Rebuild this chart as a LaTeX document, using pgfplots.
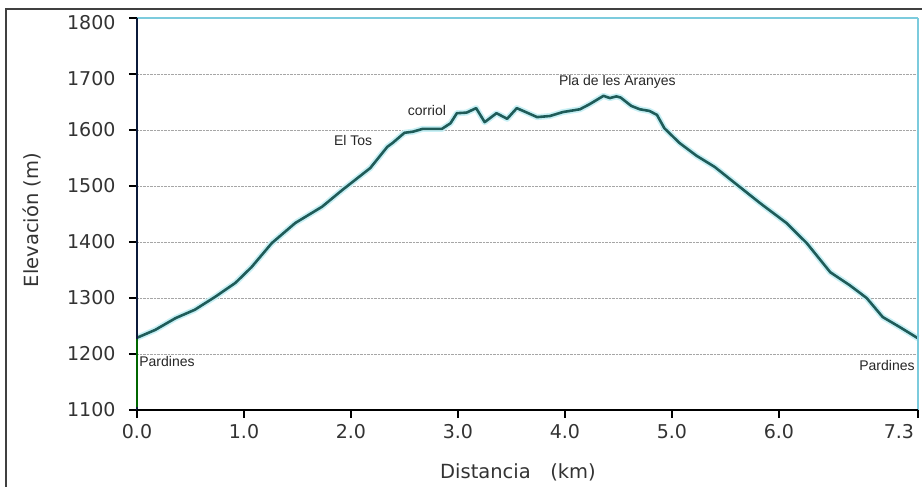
\documentclass[border=0pt]{standalone}
\usepackage{fontspec}
\setmainfont{DejaVu Sans}
\newfontfamily\arialf{Liberation Sans}
\usepackage{pgfplots}
\pgfplotsset{compat=1.18}
\definecolor{tealline}{HTML}{1F5C59}
\definecolor{halo}{HTML}{C8F0F5}
\definecolor{cyanax}{HTML}{7CCBDD}
\definecolor{navyax}{HTML}{0B1A3A}
\definecolor{ticktext}{HTML}{333333}
\definecolor{framec}{HTML}{404040}
\begin{document}
\begin{tikzpicture}
\useasboundingbox (0pt,0pt) rectangle (922pt,487pt);
\fill[white] (0pt,0pt) rectangle (922pt,487pt);
\draw[line width=1.6pt, framec] (6pt,0pt) -- (6pt,478pt);
\fill[framec] (5.2pt,477.3pt) rectangle (922pt,479.3pt);
\begin{axis}[
  at={(137pt,77pt)}, anchor=south west,
  scale only axis, width=781pt, height=392pt,
  xmin=0, xmax=7.3, ymin=1100, ymax=1800,
  clip=false,
  axis line style={draw=none},
  xtick={0,1,2,3,4,5,6,7.3},
  xticklabels={0.0,1.0,2.0,3.0,4.0,5.0,6.0,\hbox to 0pt{\hss 7.3\hskip4pt}},
  ytick={1100,1200,1300,1400,1500,1600},
  yticklabels={1100,1200,1300,1400,1500,1600},
  extra y ticks={1700,1800},
  extra y tick labels={1700,1800},
  extra y tick style={yticklabel style={yshift=-5pt}},
  xtick pos=lower, ytick pos=left,
  tick align=outside,
  major tick length=8pt,
  tick style={black, line width=1.8pt},
  ymajorgrids,
  grid style={densely dotted, gray!70, line width=0.8pt},
  xticklabel style={font=\fontsize{19}{21}\selectfont, text=ticktext, yshift=-3pt},
  yticklabel style={font=\fontsize{19}{21}\selectfont, text=ticktext, xshift=-10pt},
]
\addplot[halo, line width=6pt, line join=round] coordinates {
(0.00,1229)(0.17,1243)(0.36,1264)(0.54,1279)(0.73,1302)(0.92,1327)(1.07,1355)
(1.26,1398)(1.48,1434)(1.73,1463)(1.92,1493)(2.04,1511)(2.18,1532)(2.34,1570)
(2.39,1577)(2.50,1595)(2.58,1597)(2.67,1602)(2.85,1602)(2.93,1612)(2.99,1630)
(3.08,1631)(3.17,1639)(3.25,1614)(3.36,1630)(3.46,1620)(3.55,1639)(3.61,1634)
(3.74,1623)(3.86,1625)(3.98,1632)(4.14,1637)(4.23,1646)(4.36,1661)(4.42,1657)
(4.48,1660)(4.52,1658)(4.62,1643)(4.70,1637)(4.79,1634)(4.86,1627)(4.93,1603)
(5.07,1577)(5.23,1554)(5.40,1534)(5.61,1502)(5.82,1470)(6.07,1434)(6.26,1398)
(6.48,1346)(6.66,1323)(6.82,1300)(6.97,1266)(7.13,1248)(7.30,1228)};
\addplot[tealline, line width=2.6pt, line join=round] coordinates {
(0.00,1229)(0.17,1243)(0.36,1264)(0.54,1279)(0.73,1302)(0.92,1327)(1.07,1355)
(1.26,1398)(1.48,1434)(1.73,1463)(1.92,1493)(2.04,1511)(2.18,1532)(2.34,1570)
(2.39,1577)(2.50,1595)(2.58,1597)(2.67,1602)(2.85,1602)(2.93,1612)(2.99,1630)
(3.08,1631)(3.17,1639)(3.25,1614)(3.36,1630)(3.46,1620)(3.55,1639)(3.61,1634)
(3.74,1623)(3.86,1625)(3.98,1632)(4.14,1637)(4.23,1646)(4.36,1661)(4.42,1657)
(4.48,1660)(4.52,1658)(4.62,1643)(4.70,1637)(4.79,1634)(4.86,1627)(4.93,1603)
(5.07,1577)(5.23,1554)(5.40,1534)(5.61,1502)(5.82,1470)(6.07,1434)(6.26,1398)
(6.48,1346)(6.66,1323)(6.82,1300)(6.97,1266)(7.13,1248)(7.30,1228)};
\draw[cyanax, line width=2pt] (axis cs:0,1800) -- (axis cs:7.3,1800);
\draw[cyanax, line width=2.5pt] (axis cs:7.3,1100) -- (axis cs:7.3,1800);
\draw[navyax, line width=2.5pt] (axis cs:0,1100) -- (axis cs:0,1800);
\draw[green!40!black, line width=1.5pt] (axis cs:0,1105) -- (axis cs:0,1226);
\draw[black, line width=2.5pt] (axis cs:0,1100) -- (axis cs:7.3,1100);
\node[font=\arialf\fontsize{14}{16}\selectfont, text=black!85, anchor=east, inner sep=0pt] at (axis cs:2.20,1582) {El Tos};
\node[font=\arialf\fontsize{14}{16}\selectfont, text=black!85, inner sep=0pt] at (axis cs:2.71,1634) {corriol};
\node[font=\arialf\fontsize{14}{16}\selectfont, text=black!85, inner sep=0pt] at (axis cs:4.49,1686) {Pla de les Aranyes};
\node[font=\arialf\fontsize{14}{16}\selectfont, text=black!85, anchor=west, inner sep=0pt] at (axis cs:0.02,1186) {Pardines};
\node[font=\arialf\fontsize{14}{16}\selectfont, text=black!85, anchor=east, inner sep=0pt] at (axis cs:7.27,1179) {Pardines};
\end{axis}
\node[font=\fontsize{19.5}{22}\selectfont, text=ticktext] at (518pt,15pt) {Distancia\hspace{1em}(km)};
\node[font=\fontsize{19.5}{22}\selectfont, text=ticktext, rotate=90] at (32pt,267pt) {Elevación (m)};
\end{tikzpicture}
\end{document}
